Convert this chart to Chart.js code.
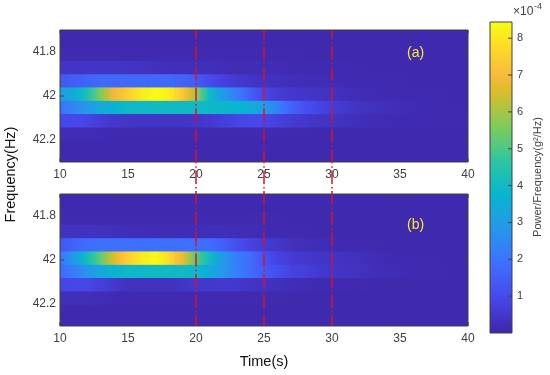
<!DOCTYPE html>
<html>
<head>
<meta charset="UTF-8">
<title>Spectrogram</title>
<script src="https://cdn.jsdelivr.net/npm/chart.js"></script>
<style>
    body { margin: 0; background: white; }
    canvas { position: absolute; }
</style>
</head>
<body>
<canvas id="panelA" width="550" height="190" style="left:0;top:0"></canvas>
<canvas id="panelB" width="550" height="190" style="left:0;top:164px"></canvas>
<canvas id="colorbar" width="80" height="375" style="left:470px;top:0"></canvas>
<canvas id="overlay" width="550" height="375" style="left:0;top:0"></canvas>
<script>
const times = [10,11,12,13,14,15,16,17,18,19,20,21,22,23,24,25,26,27,28,29,30,31,32,33,34,35,36,37,38,39,40];
const freqs = [41.687,41.748,41.808,41.869,41.929,41.99,42.05,42.111,42.172,42.232,42.293];
const freqTicks = [41.8,42,42.2];
const timeMarkers = [20,25,30];
const powerTicks = [1,2,3,4,5,6,7,8];

// power in 1e-4 g^2/Hz, one row per frequency, one column per second
const powerA = [
  [.1,.1,.1,.1,.1,.1,.1,.1,.1,.1,.1,.1,.1,.1,.1,.1,.1,.1,.1,.1,.1,.1,.1,.1,.1,.1,.1,.1,.1,.1,.1],
  [.1,.1,.1,.1,.1,.1,.1,.1,.1,.1,.1,.1,.1,.1,.1,.1,.1,.1,.1,.1,.1,.1,.1,.1,.1,.1,.1,.1,.1,.1,.1],
  [.14,.14,.14,.14,.13,.12,.12,.12,.12,.12,.12,.12,.12,.12,.12,.12,.11,.11,.1,.1,.1,.1,.1,.1,.1,.1,.1,.1,.1,.1,.1],
  [.4,.4,.42,.42,.4,.38,.36,.3,.26,.25,.25,.25,.22,.2,.2,.2,.18,.15,.14,.13,.12,.12,.11,.1,.1,.1,.1,.1,.1,.1,.1],
  [1.3,1.45,1.6,1.7,1.7,1.7,1.7,1.7,1.7,1.6,1.4,1,.75,.55,.42,.33,.3,.25,.22,.2,.18,.15,.14,.13,.12,.11,.1,.1,.1,.1,.1],
  [3.1,3.4,4.3,5.6,6.9,7.5,8.1,8.4,8.2,7.3,5.9,3.9,2.9,2.2,1.5,.9,.65,.5,.45,.38,.33,.25,.2,.17,.15,.13,.12,.12,.11,.1,.1],
  [1.9,2.4,2.9,3.4,3.7,3.9,3.9,3.95,3.95,3.95,3.95,3.9,3.85,3.75,3.5,3,2.3,1.6,1.15,.85,.65,.5,.38,.3,.25,.2,.17,.14,.12,.12,.1],
  [.95,.95,.85,.65,.5,.45,.4,.4,.4,.42,.45,.55,.7,.85,.95,.92,.75,.6,.5,.42,.38,.32,.25,.2,.17,.15,.13,.12,.12,.12,.12],
  [.2,.2,.18,.15,.12,.12,.12,.12,.12,.12,.12,.12,.12,.12,.12,.12,.12,.11,.11,.1,.1,.1,.1,.1,.1,.1,.1,.1,.1,.1,.1],
  [.1,.1,.1,.1,.1,.1,.1,.1,.1,.1,.1,.1,.1,.1,.1,.1,.1,.1,.1,.1,.1,.1,.1,.1,.1,.1,.1,.1,.1,.1,.1],
  [.1,.1,.1,.1,.1,.1,.1,.1,.1,.1,.1,.1,.1,.1,.1,.1,.1,.1,.1,.1,.1,.1,.1,.1,.1,.1,.1,.1,.1,.1,.1]
];
const powerB = [
  [.1,.1,.1,.1,.1,.1,.1,.1,.1,.1,.1,.1,.1,.1,.1,.1,.1,.1,.1,.1,.1,.1,.1,.1,.1,.1,.1,.1,.1,.1,.1],
  [.1,.1,.1,.1,.1,.1,.1,.1,.1,.1,.1,.1,.1,.1,.1,.1,.1,.1,.1,.1,.1,.1,.1,.1,.1,.1,.1,.1,.1,.1,.1],
  [.14,.14,.13,.12,.12,.12,.12,.12,.12,.12,.12,.12,.12,.12,.12,.11,.11,.1,.1,.1,.1,.1,.1,.1,.1,.1,.1,.1,.1,.1,.1],
  [.35,.35,.35,.32,.28,.24,.22,.2,.2,.2,.22,.25,.25,.22,.18,.15,.14,.12,.11,.1,.1,.1,.1,.1,.1,.1,.1,.1,.1,.1,.1],
  [1.3,1.6,1.8,1.9,1.9,1.9,1.9,1.9,1.9,1.9,1.85,1.8,1.5,1.1,.8,.6,.5,.3,.25,.2,.17,.14,.12,.11,.1,.1,.1,.1,.1,.1,.1],
  [2.0,2.9,4.1,5.3,6.6,7.5,8.1,8.4,7.8,6.8,5.2,4,2.9,2.2,1.8,1.2,.8,.6,.5,.45,.4,.35,.3,.2,.15,.13,.12,.11,.1,.1,.1],
  [1.7,2.2,2.8,3.3,3.7,3.9,3.9,3.95,3.95,3.95,3.9,3.4,2.8,2.3,1.8,1.4,1.1,.8,.7,.55,.45,.4,.35,.25,.2,.17,.14,.12,.11,.1,.1],
  [.85,.9,.9,.7,.5,.32,.3,.3,.32,.4,.5,.5,.55,.5,.4,.35,.3,.22,.18,.15,.13,.12,.11,.1,.1,.1,.1,.1,.1,.1,.1],
  [.25,.25,.25,.2,.15,.14,.12,.12,.12,.12,.12,.12,.12,.12,.12,.11,.11,.1,.1,.1,.1,.1,.1,.1,.1,.1,.1,.1,.1,.1,.1],
  [.1,.1,.1,.1,.1,.1,.1,.1,.1,.1,.1,.1,.1,.1,.1,.1,.1,.1,.1,.1,.1,.1,.1,.1,.1,.1,.1,.1,.1,.1,.1],
  [.1,.1,.1,.1,.1,.1,.1,.1,.1,.1,.1,.1,.1,.1,.1,.1,.1,.1,.1,.1,.1,.1,.1,.1,.1,.1,.1,.1,.1,.1,.1]
];

const fontFamily = '"Liberation Sans", Arial, sans-serif';
const inkColor = '#404040';
const powerMax = 8.44;

// parula, a few stops are enough
const mapPos = [0,.111,.222,.333,.444,.556,.667,.778,.825,.889,1];
const mapCol = [[62,38,168],[71,71,235],[62,111,255],[39,150,235],[8,181,208],[49,198,159],[129,204,89],[220,189,41],[248,186,61],[252,207,48],[249,251,21]];

function parula(v) {
    let p = Math.min(1, Math.max(0, v / powerMax));
    let i = 0;
    while (i < mapPos.length - 2 && p > mapPos[i + 1]) i++;
    let f = (p - mapPos[i]) / (mapPos[i + 1] - mapPos[i]);
    let c = mapCol[i].map((a, k) => Math.round(a + (mapCol[i + 1][k] - a) * f));
    return `rgb(${c[0]},${c[1]},${c[2]})`;
}

// each cell fades into its neighbours so columns don't look blocky
function cellFill(row) {
    return function (ctx) {
        let i = ctx.dataIndex;
        if (i === undefined) return parula(0);
        let xs = ctx.chart.scales.x;
        let t = times[i];
        let x0 = xs.getPixelForValue(t - .5), x1 = xs.getPixelForValue(t + .5);
        if (!Number.isFinite(x0) || !Number.isFinite(x1)) return parula(row[i]);
        let prev = row[Math.max(0, i - 1)], next = row[Math.min(row.length - 1, i + 1)];
        let g = ctx.chart.ctx.createLinearGradient(x0, 0, x1, 0);
        g.addColorStop(0, parula((prev + row[i]) / 2));
        g.addColorStop(.5, parula(row[i]));
        g.addColorStop(1, parula((next + row[i]) / 2));
        return g;
    };
}

// MATLAB style box: inside ticks on every side
const axesBox = {
    id: 'axesBox',
    beforeDatasetsDraw(chart) {
        // dark backing so antialiased cell seams don't show white
        let { ctx, chartArea: a } = chart;
        ctx.save();
        ctx.fillStyle = parula(.1);
        ctx.fillRect(a.left, a.top, a.right - a.left, a.bottom - a.top);
        ctx.restore();
    },
    afterDatasetsDraw(chart, args, opts) {
        let { ctx, chartArea: a, scales } = chart;
        ctx.save();
        ctx.strokeStyle = inkColor;
        ctx.lineWidth = 1;
        ctx.beginPath();
        ctx.rect(a.left, a.top, a.right - a.left, a.bottom - a.top);
        let len = 4;
        if (!opts.colorbar) {
            scales.x.ticks.forEach(tk => {
                let px = scales.x.getPixelForValue(tk.value);
                ctx.moveTo(px, a.top); ctx.lineTo(px, a.top + len);
                ctx.moveTo(px, a.bottom); ctx.lineTo(px, a.bottom - len);
            });
        }
        scales.y.ticks.forEach(tk => {
            let py = scales.y.getPixelForValue(tk.value);
            if (!opts.colorbar) { ctx.moveTo(a.left, py); ctx.lineTo(a.left + len, py); }
            ctx.moveTo(a.right, py); ctx.lineTo(a.right - len, py);
        });
        ctx.stroke();
        ctx.restore();
    }
};

const panelTag = {
    id: 'panelTag',
    afterDatasetsDraw(chart, args, opts) {
        let ctx = chart.ctx;
        ctx.save();
        ctx.fillStyle = '#f5ee20';
        ctx.font = '14px ' + fontFamily;
        ctx.textAlign = 'center';
        ctx.textBaseline = 'middle';
        ctx.fillText(opts.text, chart.scales.x.getPixelForValue(opts.t), chart.scales.y.getPixelForValue(opts.f));
        ctx.restore();
    }
};

function makePanel(id, power, tag) {
    let half = (freqs[1] - freqs[0]) / 2;
    new Chart(document.getElementById(id), {
        type: 'bar',
        data: {
            datasets: freqs.map((f, r) => ({
                data: times.map(t => ({ x: t, y: [f - half, f + half] })),
                backgroundColor: cellFill(power[r]),
                borderWidth: 0,
                barPercentage: 1,
                categoryPercentage: 1,
                grouped: false
            }))
        },
        options: {
            responsive: false,
            animation: false,
            layout: { padding: { left: 0, right: 82, top: 30, bottom: 0 } },
            plugins: { legend: { display: false }, tooltip: { enabled: false }, axesBox: {}, panelTag: tag },
            scales: {
                x: {
                    type: 'linear', min: 10, max: 40, offset: false,
                    grid: { display: false, drawTicks: false }, border: { display: false },
                    ticks: { stepSize: 5, padding: 5, color: inkColor, font: { size: 12, family: fontFamily }, maxRotation: 0 },
                    afterFit(s) { s.height = 28; }
                },
                y: {
                    type: 'linear', min: 41.7, max: 42.3, reverse: true, beginAtZero: false,
                    grid: { display: false, drawTicks: false }, border: { display: false },
                    afterBuildTicks(s) { s.ticks = freqTicks.map(v => ({ value: v })); },
                    ticks: { padding: 4, color: inkColor, font: { size: 12, family: fontFamily }, callback: v => String(v), autoSkip: false },
                    afterFit(s) { s.width = 60; }
                }
            }
        },
        plugins: [axesBox, panelTag]
    });
}

makePanel('panelA', powerA, { text: '(a)', t: 36.15, f: 41.806 });
makePanel('panelB', powerB, { text: '(b)', t: 36.15, f: 41.843 });

// colorbar labels
const barText = {
    id: 'barText',
    afterDraw(chart) {
        let ctx = chart.ctx;
        ctx.save();
        ctx.fillStyle = inkColor;
        ctx.textBaseline = 'middle';
        ctx.font = '12px ' + fontFamily;
        ctx.fillText('×10', 43, 12);
        ctx.font = '9px ' + fontFamily;
        ctx.fillText('-4', 64, 7);
        ctx.translate(68, 177);
        ctx.rotate(-Math.PI / 2);
        ctx.textAlign = 'center';
        ctx.font = '11px ' + fontFamily;
        ctx.fillText('Power/Frequency(g²/Hz)', 0, 0);
        ctx.restore();
    }
};

new Chart(document.getElementById('colorbar'), {
    type: 'bar',
    data: {
        labels: [''],
        datasets: [{
            data: [[0, powerMax]],
            barPercentage: 1,
            categoryPercentage: 1,
            borderWidth: 0,
            backgroundColor(ctx) {
                let a = ctx.chart.chartArea;
                if (!a) return parula(0);
                let g = ctx.chart.ctx.createLinearGradient(0, a.bottom, 0, a.top);
                mapPos.forEach((p, i) => g.addColorStop(p, `rgb(${mapCol[i].join(',')})`));
                return g;
            }
        }]
    },
    options: {
        responsive: false,
        animation: false,
        layout: { padding: { left: 20, right: 0, top: 22, bottom: 42 } },
        plugins: { legend: { display: false }, tooltip: { enabled: false }, axesBox: { colorbar: true } },
        scales: {
            x: { display: false },
            y: {
                position: 'right', min: 0, max: powerMax,
                grid: { display: false, drawTicks: false }, border: { display: false },
                afterBuildTicks(s) { s.ticks = powerTicks.map(v => ({ value: v })); },
                ticks: { padding: 5, color: inkColor, font: { size: 11, family: fontFamily }, callback: v => String(v), autoSkip: false },
                afterFit(s) { s.width = 38; }
            }
        }
    },
    plugins: [axesBox, barText]
});

// the y title in the reference sits a little above the middle of the two panels
const raiseYTitle = {
    id: 'raiseYTitle',
    beforeDraw(chart) { chart.scales.y.bottom -= 7; }
};

// dash-dot markers over both panels, plus the shared axis titles
new Chart(document.getElementById('overlay'), {
    type: 'scatter',
    data: {
        datasets: timeMarkers.map(t => ({
            data: [{ x: t, y: 0 }, { x: t, y: 1 }],
            showLine: true,
            clip: false,
            pointRadius: 0,
            borderColor: '#d9122f',
            borderWidth: 1.5,
            borderDash: [13.5, 3, 1.5, 2.7],
            borderDashOffset: 4.5
        }))
    },
    options: {
        responsive: false,
        animation: false,
        layout: { padding: { left: 0, right: 82, top: 30, bottom: 0 } },
        plugins: { legend: { display: false }, tooltip: { enabled: false } },
        scales: {
            x: {
                type: 'linear', min: 10, max: 40,
                grid: { display: false }, border: { display: false }, ticks: { display: false },
                title: { display: true, text: 'Time(s)', color: '#111', font: { size: 14.5, family: fontFamily }, padding: { top: 0, bottom: 4 } },
                afterFit(s) { s.height = 49; }
            },
            y: {
                type: 'linear', min: 0, max: 1, reverse: true,
                grid: { display: false }, border: { display: false }, ticks: { display: false },
                title: { display: true, text: 'Frequency(Hz)', color: '#111', font: { size: 14.5, family: fontFamily }, padding: { top: 2, bottom: 0 } },
                afterFit(s) { s.width = 60; }
            }
        }
    },
    plugins: [raiseYTitle]
});
</script>
</body>
</html>
